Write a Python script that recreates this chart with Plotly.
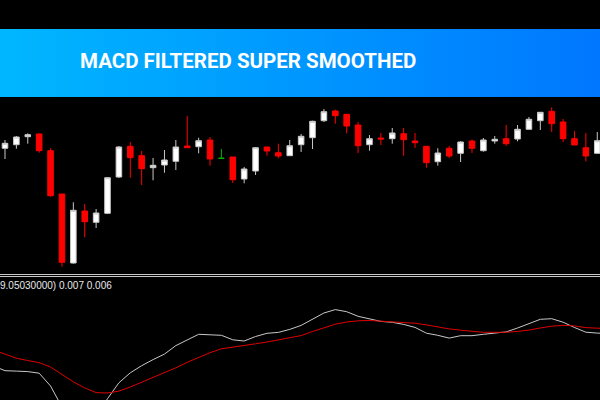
import plotly.graph_objects as go

# ---- candle data (index 0..52) ----
opens = [1.1517, 1.1553, 1.1633, 1.1660, 1.1493, 1.1060, 1.0370, 1.0890, 1.0777, 1.0867,
         1.1230, 1.1537, 1.1443, 1.1323, 1.1350, 1.1387, 1.1540, 1.1533, 1.1600, 1.1417,
         1.1430, 1.1210, 1.1290, 1.1530, 1.1473, 1.1443, 1.1553, 1.1623, 1.1793, 1.1890,
         1.1857, 1.1750, 1.1553, 1.1620, 1.1613, 1.1663, 1.1590, 1.1537, 1.1383, 1.1517,
         1.1467, 1.1590, 1.1493, 1.1590, 1.1613, 1.1610, 1.1707, 1.1793, 1.1887, 1.1780,
         1.1613, 1.1523, 1.1467]
highs = [1.1600, 1.1640, 1.1667, 1.1667, 1.1517, 1.1060, 1.0977, 1.0960, 1.0910, 1.1230,
         1.1540, 1.1580, 1.1490, 1.1420, 1.1500, 1.1600, 1.1840, 1.1623, 1.1630, 1.1510,
         1.1430, 1.1330, 1.1530, 1.1530, 1.1563, 1.1600, 1.1660, 1.1793, 1.1910, 1.1903,
         1.1857, 1.1780, 1.1650, 1.1670, 1.1720, 1.1720, 1.1670, 1.1537, 1.1517, 1.1540,
         1.1587, 1.1603, 1.1620, 1.1640, 1.1750, 1.1750, 1.1830, 1.1877, 1.1927, 1.1810,
         1.1687, 1.1670, 1.1680]
lows = [1.1410, 1.1513, 1.1563, 1.1473, 1.1033, 1.0333, 1.0363, 1.0627, 1.0720, 1.0860,
        1.1220, 1.1223, 1.1150, 1.1197, 1.1273, 1.1300, 1.1520, 1.1467, 1.1343, 1.1413,
        1.1170, 1.1167, 1.1250, 1.1443, 1.1417, 1.1443, 1.1480, 1.1510, 1.1780, 1.1763,
        1.1667, 1.1470, 1.1493, 1.1550, 1.1563, 1.1443, 1.1520, 1.1323, 1.1343, 1.1420,
        1.1380, 1.1470, 1.1483, 1.1563, 1.1540, 1.1587, 1.1707, 1.1700, 1.1680, 1.1580,
        1.1550, 1.1387, 1.1467]
closes = [1.1567, 1.1630, 1.1653, 1.1493, 1.1043, 1.0377, 1.0897, 1.0783, 1.0870, 1.1223,
          1.1530, 1.1423, 1.1313, 1.1347, 1.1400, 1.1530, 1.1523, 1.1593, 1.1410, 1.1417,
          1.1203, 1.1310, 1.1523, 1.1490, 1.1440, 1.1543, 1.1637, 1.1787, 1.1883, 1.1843,
          1.1740, 1.1543, 1.1613, 1.1610, 1.1670, 1.1603, 1.1573, 1.1373, 1.1470, 1.1440,
          1.1580, 1.1517, 1.1600, 1.1607, 1.1563, 1.1707, 1.1807, 1.1877, 1.1763, 1.1613,
          1.1550, 1.1440, 1.1593]

# ---- MACD data (index -1..53) ----
macd_main = [-0.0006, -0.00107, -0.00111, -0.00116, -0.00132, -0.0026, -0.0047, -0.0060, -0.0062, -0.0058,
             -0.00387, -0.00228, -0.00128, -0.00057, 0.00004, 0.00059, 0.00144, 0.00202, 0.00257, 0.00252,
             0.00247, 0.00202, 0.0019, 0.00235, 0.00267, 0.00276, 0.00306, 0.00346, 0.00412, 0.0047,
             0.00504, 0.00483, 0.00437, 0.00414, 0.00386, 0.00377, 0.00356, 0.00326, 0.00268, 0.00247,
             0.00219, 0.00243, 0.00243, 0.00257, 0.00272, 0.00281, 0.0032, 0.00365, 0.00407, 0.00413,
             0.00378, 0.00325, 0.00278, 0.00269, 0.00265]
macd_signal = [0.0010, 0.00059, 0.00018, -0.00005, -0.00027, -0.0007, -0.00148, -0.00218, -0.00279, -0.00326,
               -0.0033, -0.00311, -0.0027, -0.00221, -0.0018, -0.0013, -0.00078, -0.00023, 0.00026, 0.00073,
               0.00112, 0.00127, 0.00141, 0.00162, 0.0018, 0.002, 0.00222, 0.00244, 0.00285, 0.00323,
               0.00358, 0.0038, 0.00392, 0.00395, 0.00389, 0.00384, 0.00381, 0.00368, 0.00351, 0.0033,
               0.00311, 0.00298, 0.00285, 0.00277, 0.00277, 0.00277, 0.00286, 0.00299, 0.0032, 0.00338,
               0.00347, 0.00341, 0.00324, 0.00316, 0.00312]

title_text = "MACD FILTERED SUPER SMOOTHED"
info_text = "9.05030000) 0.007 0.006"

idx = list(range(len(opens)))
macd_idx = list(range(-1, len(opens) + 1))

normal = [i for i in idx if opens[i] != closes[i]]
doji = [i for i in idx if opens[i] == closes[i]]

fig = go.Figure()

# banner gradient
fig.add_trace(go.Scatter(
    x=[0, 1, 1, 0, 0], y=[0, 0, 1, 1, 0], xaxis="x3", yaxis="y3",
    mode="lines", fill="toself", line=dict(width=0),
    fillgradient=dict(type="horizontal", colorscale=[[0, "#00B7FF"], [1, "#0077FF"]]),
    hoverinfo="skip", showlegend=False))

fig.add_trace(go.Candlestick(
    x=[idx[i] for i in normal],
    open=[opens[i] for i in normal], high=[highs[i] for i in normal],
    low=[lows[i] for i in normal], close=[closes[i] for i in normal],
    increasing=dict(fillcolor="#FFFFFF", line=dict(color="#C8C8C8", width=1)),
    decreasing=dict(fillcolor="#FF0000", line=dict(color="#FF0000", width=1)),
    whiskerwidth=0, showlegend=False, hoverinfo="skip"))

fig.add_trace(go.Candlestick(
    x=[idx[i] for i in doji],
    open=[opens[i] for i in doji], high=[highs[i] for i in doji],
    low=[lows[i] for i in doji], close=[closes[i] for i in doji],
    increasing=dict(fillcolor="#00B000", line=dict(color="#00B000", width=1)),
    decreasing=dict(fillcolor="#00B000", line=dict(color="#00B000", width=1)),
    whiskerwidth=0, showlegend=False, hoverinfo="skip"))

fig.add_trace(go.Scatter(x=macd_idx, y=macd_main, xaxis="x2", yaxis="y2", mode="lines",
                         line=dict(color="#C8C8C8", width=1), showlegend=False, hoverinfo="skip"))
fig.add_trace(go.Scatter(x=macd_idx, y=macd_signal, xaxis="x2", yaxis="y2", mode="lines",
                         line=dict(color="#E00000", width=1), showlegend=False, hoverinfo="skip"))

xr = [-0.439, 52.24]
ax = dict(visible=False, showgrid=False, zeroline=False, fixedrange=True)
fig.update_layout(
    width=600, height=400, margin=dict(l=0, r=0, t=0, b=0),
    paper_bgcolor="#000000", plot_bgcolor="rgba(0,0,0,0)",
    xaxis=dict(**ax, range=xr, domain=[0, 1], anchor="y", rangeslider=dict(visible=False)),
    yaxis=dict(**ax, range=[1.028, 1.202], domain=[0.32, 0.755], anchor="x"),
    xaxis2=dict(**ax, range=xr, domain=[0, 1], anchor="y2"),
    yaxis2=dict(**ax, range=[-0.004, 0.0082], domain=[0, 0.305], anchor="x2"),
    xaxis3=dict(**ax, range=[0, 1], domain=[0, 1], anchor="y3"),
    yaxis3=dict(**ax, range=[0, 1], domain=[0.7575, 0.9275], anchor="x3"),
    shapes=[
        dict(type="line", xref="paper", yref="paper", x0=0, x1=1, y0=(400 - 274.5) / 400, y1=(400 - 274.5) / 400,
             line=dict(color="#C8C8C8", width=1)),
        dict(type="line", xref="paper", yref="paper", x0=0, x1=1, y0=(400 - 276.5) / 400, y1=(400 - 276.5) / 400,
             line=dict(color="#C8C8C8", width=1)),
    ],
    annotations=[
        dict(text=title_text, xref="paper", yref="paper", x=248 / 600, y=(400 - 61) / 400,
             xanchor="center", yanchor="middle", showarrow=False,
             font=dict(family="Roboto", size=20.5, color="#FFFFFF", weight=700)),
        dict(text=info_text, xref="paper", yref="paper", x=-2 / 600, y=(400 - 285) / 400,
             xanchor="left", yanchor="middle", showarrow=False,
             font=dict(family="Liberation Sans", size=10, color="#E8E8E8")),
    ],
)

fig.write_html("out.html", config={"displayModeBar": False},
               post_script="document.body.style.margin='0';")
